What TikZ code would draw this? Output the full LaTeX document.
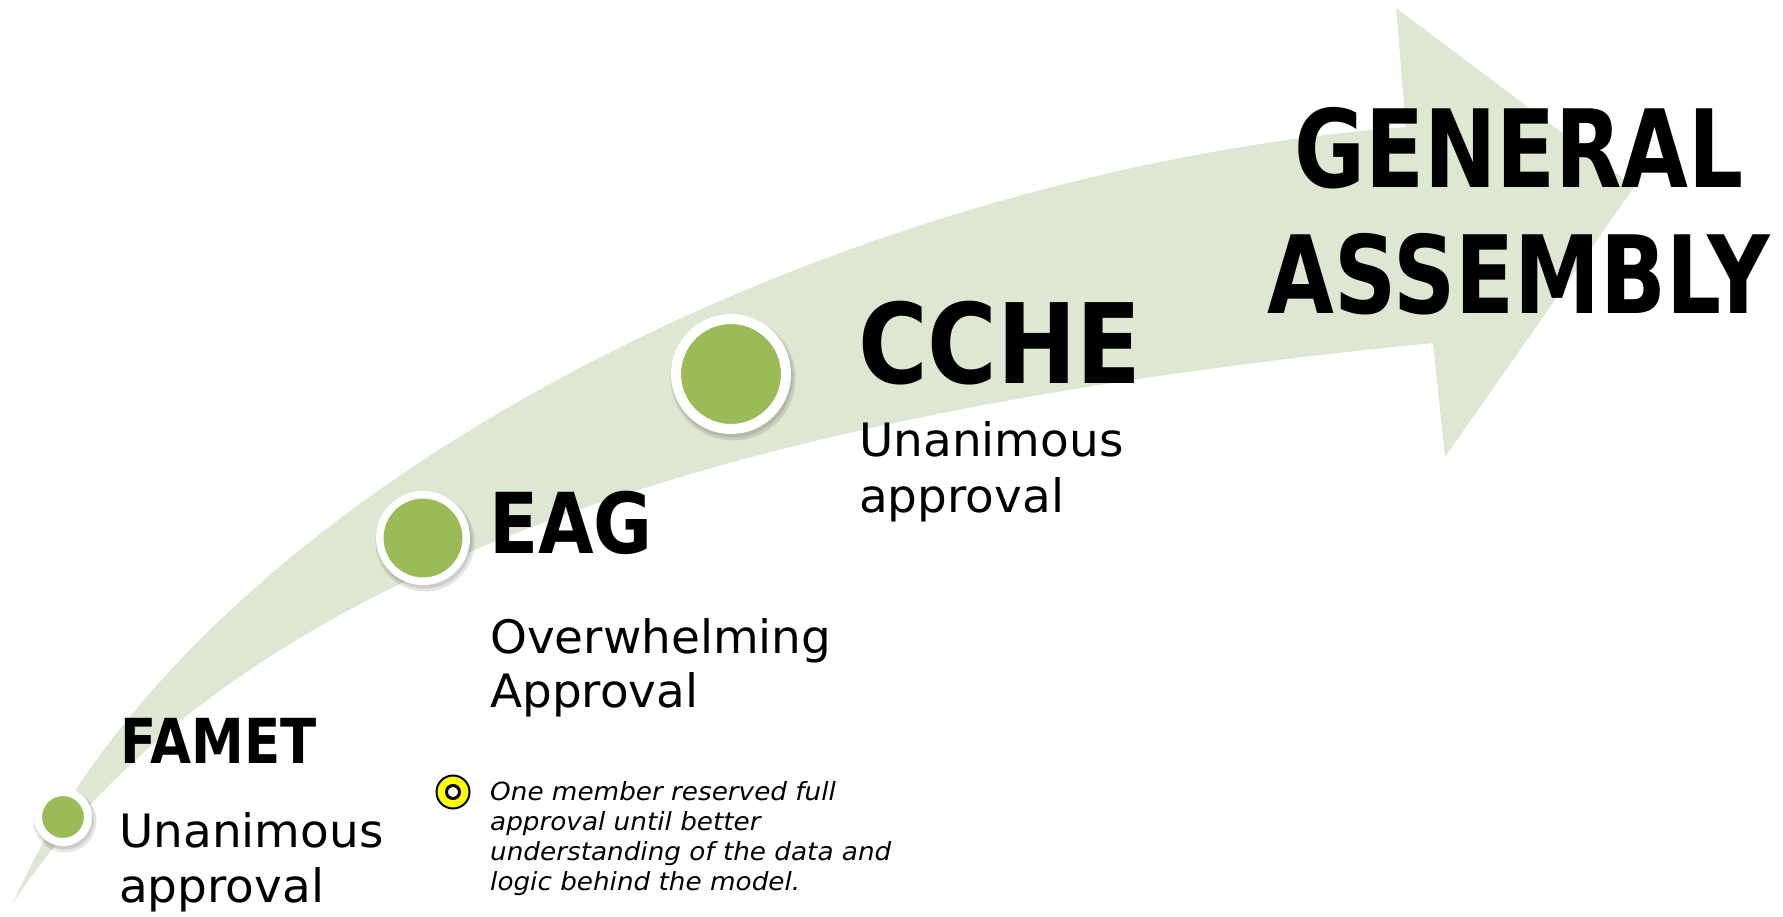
\documentclass[tikz,border=0pt]{standalone}
\usepackage{fontspec}
\setmainfont{DejaVu Sans}
\newfontfamily\headfont[FakeStretch=0.8]{DejaVu Sans}
\newfontfamily\headfontb[FakeStretch=0.855]{DejaVu Sans}
\newfontfamily\bodyfont[FakeStretch=1.02]{DejaVu Sans}
\newfontfamily\notefont[FakeStretch=1.05]{DejaVu Sans}
\definecolor{bandgreen}{RGB}{222,231,210}
\definecolor{dotgreen}{RGB}{155,187,89}
\definecolor{markyellow}{RGB}{255,255,0}
\tikzset{
  band/.style={fill=bandgreen},
  stepdot/.style={circle, inner sep=0pt, fill=dotgreen, draw=white},
  dotshadow/.style={fill=black, opacity=0.10},
  headtxt/.style={inner sep=0pt, anchor=base west, text=black},
  bodytxt/.style={inner sep=0pt, anchor=base west, text=black, font=\bodyfont\fontsize{46}{56}\selectfont},
  notetxt/.style={inner sep=0pt, anchor=base west, text=black, font=\notefont\itshape\fontsize{25}{30}\selectfont},
}
\begin{document}
\begin{tikzpicture}[x=1pt,y=-1pt]
\useasboundingbox (0,0) rectangle (1783,916);
\fill[white] (0,0) rectangle (1783,916);

% curved arrow band
\fill[band] (13,903) .. controls (200,480) and (850,170) .. (1406,127)
  -- (1396,8) -- (1634,187) -- (1445,457) -- (1433,343)
  .. controls (750,410) and (240,560) .. (13,903) -- cycle;

% step dots
\coordinate (pF) at (63,817);
\coordinate (pE) at (423,538);
\coordinate (pC) at (731,374);
\foreach \p/\r in {pF/29, pE/47, pC/60}{
  \fill[dotshadow] ([shift={(2,4)}]\p) circle ({\r+2.5pt});
  \fill[dotshadow] ([shift={(1.5,3)}]\p) circle ({\r+0.5pt});
}
\node[stepdot, minimum size=50pt, line width=8pt] (cFamet) at (pF) {};
\node[stepdot, minimum size=86.5pt, line width=7.5pt] (cEag) at (pE) {};
\node[stepdot, minimum size=110pt, line width=10pt] (cCche) at (pC) {};

% headings
\node[headtxt, anchor=base, font=\headfont\bfseries\fontsize{108}{130}\selectfont] (gen) at (1519,187) {GENERAL};
\node[headtxt, anchor=base, font=\headfont\bfseries\fontsize{108}{130}\selectfont] (asm) at (1519,313) {ASSEMBLY};
\node[headtxt, font=\headfontb\bfseries\fontsize{111}{130}\selectfont] (cche) at (858,383) {CCHE};
\node[headtxt, font=\headfontb\bfseries\fontsize{84}{100}\selectfont] (eag) at (489,553) {EAG};
\node[headtxt, font=\headfontb\bfseries\fontsize{62}{75}\selectfont] (famet) at (120,763) {FAMET};

% body texts
\node[bodytxt] (cche1) at (859,456) {Unanimous};
\node[bodytxt] (cche2) at (859,512) {approval};
\node[bodytxt] (eag1) at (490,653) {Overwhelming};
\node[bodytxt] (eag2) at (490,707) {Approval};
\node[bodytxt] (famet1) at (119,847) {Unanimous};
\node[bodytxt] (famet2) at (119,902) {approval};

% note marker
\node[circle, inner sep=0pt, minimum size=33pt, fill=markyellow, draw=black, line width=2pt] (ymark) at (453,792) {};
\node[circle, inner sep=0pt, minimum size=13pt, fill=white, draw=black, line width=3pt] (ymarkin) at (ymark.center) {};

% note text
\node[notetxt] (n1) at (490,800) {One member reserved full};
\node[notetxt] (n2) at (490,830) {approval until better};
\node[notetxt] (n3) at (490,860) {understanding of the data and};
\node[notetxt] (n4) at (490,890) {logic behind the model.};
\end{tikzpicture}
\end{document}
